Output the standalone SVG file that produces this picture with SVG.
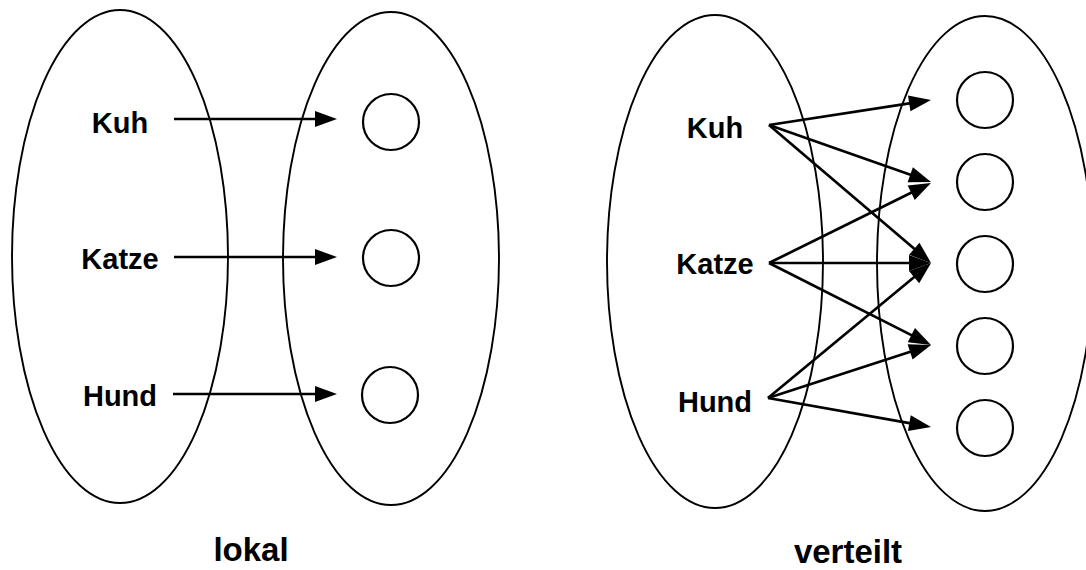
<svg xmlns="http://www.w3.org/2000/svg" width="1086" height="570" viewBox="0 0 1086 570">
  <style>
    .set { fill: none; stroke: #000; stroke-width: 1.9; }
    .unit { fill: none; stroke: #000; stroke-width: 2.2; }
    .word { font-family: "Liberation Sans", Arial, sans-serif; font-weight: bold; font-size: 29px; fill: #000; text-anchor: middle; }
    .caption { font-family: "Liberation Sans", Arial, sans-serif; font-weight: bold; font-size: 33px; fill: #000; text-anchor: middle; }
    .link { fill: none; stroke: #000; stroke-width: 2.7; marker-end: url(#head); }
  </style>
  <defs>
    <marker id="head" markerUnits="userSpaceOnUse" markerWidth="22" markerHeight="16" refX="10" refY="8" orient="auto" overflow="visible">
      <path d="M0,0 L22,8 L0,16 z" fill="#000"/>
    </marker>
  </defs>
  <rect width="1086" height="570" fill="#fff"/>

  <!-- left panel: local coding -->
  <g id="lokal-words">
    <ellipse class="set" cx="120" cy="256.5" rx="108" ry="246.5"/>
    <text class="word" x="120" y="133">Kuh</text>
    <text class="word" x="120" y="269">Katze</text>
    <text class="word" x="120" y="406">Hund</text>
  </g>
  <g id="lokal-units">
    <ellipse class="set" cx="391" cy="258.5" rx="108" ry="246.5"/>
    <circle class="unit" cx="391" cy="122" r="28"/>
    <circle class="unit" cx="391" cy="258" r="28"/>
    <circle class="unit" cx="390" cy="395" r="28"/>
  </g>
  <text id="lokal-caption" class="caption" x="251" y="561">lokal</text>

  <!-- right panel: distributed coding -->
  <g id="verteilt-words">
    <ellipse class="set" cx="715" cy="261.5" rx="108" ry="246.5"/>
    <text class="word" x="715" y="138">Kuh</text>
    <text class="word" x="715" y="274">Katze</text>
    <text class="word" x="715" y="412">Hund</text>
  </g>
  <g id="verteilt-units">
    <ellipse class="set" cx="985" cy="263.5" rx="108" ry="247.5"/>
    <circle class="unit" cx="985" cy="100" r="28"/>
    <circle class="unit" cx="985" cy="182" r="28"/>
    <circle class="unit" cx="985" cy="264" r="28"/>
    <circle class="unit" cx="985" cy="346" r="28"/>
    <circle class="unit" cx="985" cy="428" r="28"/>
  </g>
  <text id="verteilt-caption" class="caption" x="848" y="563">verteilt</text>

  <!-- connectors -->
  <g id="connectors">
    <path class="link" d="M174,119 L325,119"/>
    <path class="link" d="M174,257 L325,257"/>
    <path class="link" d="M173,394 L325,394"/>

    <path class="link" d="M769,125 L919.1,101.8"/>
    <path class="link" d="M769,125 L919.7,178"/>
    <path class="link" d="M769,125 L921.9,255.2"/>

    <path class="link" d="M769,263 L920.2,188.3"/>
    <path class="link" d="M769,263 L919,263"/>
    <path class="link" d="M769,263 L920.3,339.6"/>

    <path class="link" d="M768,398 L921.8,270.7"/>
    <path class="link" d="M768,398 L919.6,348.7"/>
    <path class="link" d="M768,398 L919.2,424.9"/>
  </g>
</svg>
